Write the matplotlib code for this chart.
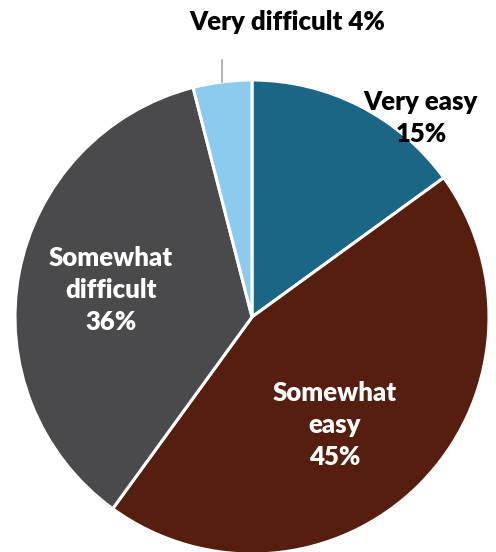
import numpy as np
import matplotlib.pyplot as plt

plt.rcParams['font.family'] = ['Lato', 'DejaVu Sans']

categories = ["Very easy", "Somewhat easy", "Somewhat difficult", "Very difficult"]
shares = [15, 45, 36, 4]
colors = ["#1b6585", "#561e0f", "#4a4a4c", "#8ccbee"]

W, H = 496, 552
fig = plt.figure(figsize=(W / 100, H / 100), dpi=100)
ax = fig.add_axes([0, 0, 1, 1])

cx, cy, R = 252, H - 317, 237
wedges, _ = ax.pie(shares, colors=colors, startangle=90, counterclock=False,
                   center=(cx, cy), radius=R, frame=True,
                   wedgeprops=dict(edgecolor="white", linewidth=2.2))
ax.set_xlim(0, W)
ax.set_ylim(0, H)
ax.set_aspect("equal")
ax.axis("off")

fsz = 18.5
ls = 1.38
fw = "heavy"
# inside labels
ax.text(421, H - 118, "Very easy\n%d%%" % shares[0], ha="center", va="center",
        fontsize=fsz, fontweight=fw, color="black", linespacing=ls)
ax.text(335, H - 425, "Somewhat\neasy\n%d%%" % shares[1], ha="center", va="center",
        fontsize=fsz, fontweight=fw, color="white", linespacing=ls)
ax.text(111, H - 290, "Somewhat\ndifficult\n%d%%" % shares[2], ha="center", va="center",
        fontsize=fsz, fontweight=fw, color="white", linespacing=ls)

# outside label with leader line
th = np.deg2rad(90 - 360 * (sum(shares[:3]) + shares[3] / 2) / 100)
x0 = cx + R * np.cos(th)
ax.plot([x0, x0], [H - 82, H - 60], color="#a6a6a6", lw=1.2)
ax.text(287, H - 22, "%s %d%%" % (categories[3], shares[3]), ha="center", va="center",
        fontsize=fsz, fontweight=fw, color="black")

fig.savefig("out.png", dpi=100)
